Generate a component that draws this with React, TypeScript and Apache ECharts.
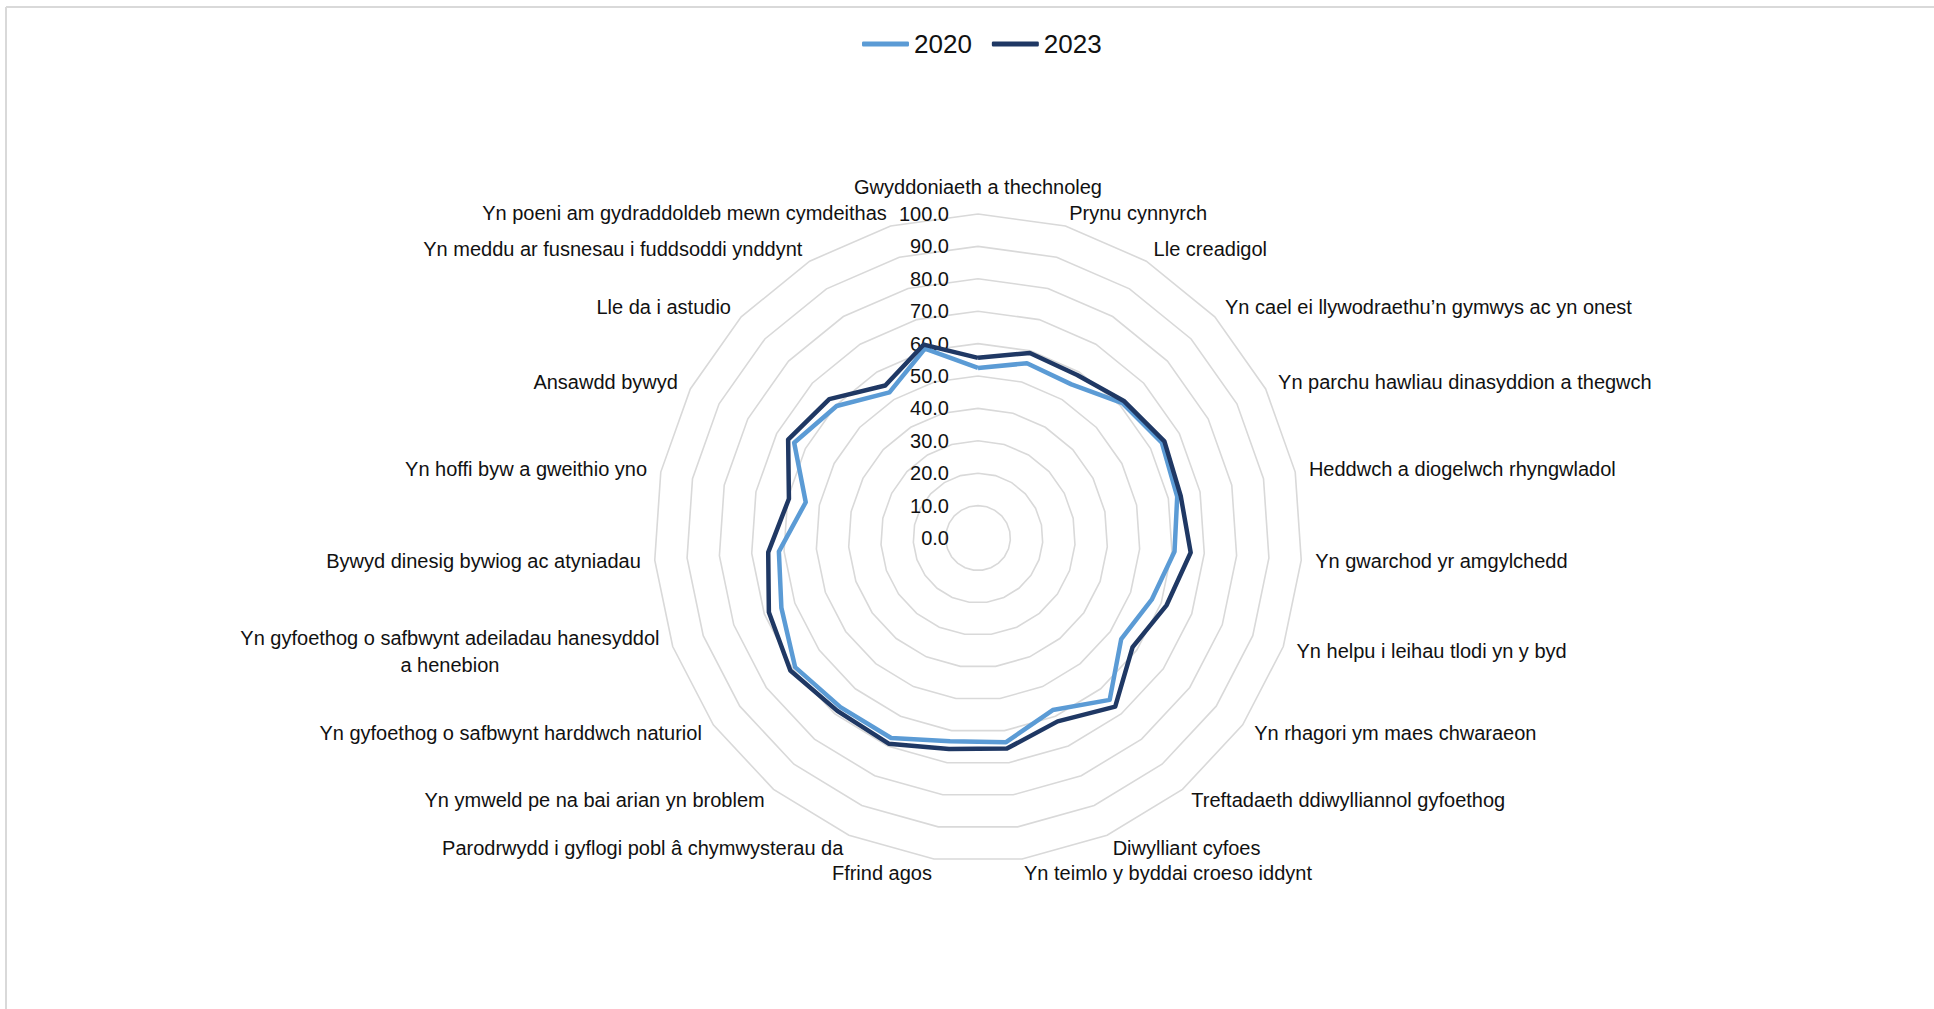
import React, { useEffect, useRef } from 'react';
import * as echarts from 'echarts';

// Indicators, listed clockwise from the top of the chart
const categories: string[] = [
  'Gwyddoniaeth a thechnoleg',
  'Prynu cynnyrch',
  'Lle creadigol',
  'Yn cael ei llywodraethu\u2019n gymwys ac yn onest',
  'Yn parchu hawliau dinasyddion a thegwch',
  'Heddwch a diogelwch rhyngwladol',
  'Yn gwarchod yr amgylchedd',
  'Yn helpu i leihau tlodi yn y byd',
  'Yn rhagori ym maes chwaraeon',
  'Treftadaeth ddiwylliannol gyfoethog',
  'Diwylliant cyfoes',
  'Yn teimlo y byddai croeso iddynt',
  'Ffrind agos',
  'Parodrwydd i gyflogi pobl \u00e2 chymwysterau da',
  'Yn ymweld pe na bai arian yn broblem',
  'Yn gyfoethog o safbwynt harddwch naturiol',
  'Yn gyfoethog o safbwynt adeiladau hanesyddol\na henebion',
  'Bywyd dinesig bywiog ac atyniadau',
  'Yn hoffi byw a gweithio yno',
  'Ansawdd bywyd',
  'Lle da i astudio',
  'Yn meddu ar fusnesau i fuddsoddi ynddynt',
  'Yn poeni am gydraddoldeb mewn cymdeithas',
];

const values2020: number[] = [
  52.5, 56.0, 55.5, 61.0, 63.9, 62.8, 60.8, 56.9, 54.1, 64.4, 57.9, 63.6,
  63.3, 67.3, 67.3, 69.1, 64.4, 61.6, 54.3, 63.9, 59.7, 52.6, 60.7,
];

const values2023: number[] = [
  55.6, 59.3, 58.9, 61.8, 64.8, 63.9, 65.8, 61.8, 58.4, 67.1, 61.7, 65.6,
  65.7, 69.2, 68.8, 70.9, 68.5, 64.9, 59.6, 66.0, 62.8, 55.1, 62.0,
];

const seriesNames: string[] = ['2020', '2023'];
const seriesColors: string[] = ['#5B9BD5', '#1F3864'];
const axisMin = 0;
const axisMax = 100;
const axisSplits = 10;

const FONT = "'Liberation Sans', Arial, sans-serif";
const TEXT = '#111111';

// ECharts lays radar indicators out counter-clockwise; reorder to draw clockwise.
function toClockwise<T>(arr: T[]): T[] {
  return [arr[0], ...arr.slice(1).reverse()];
}

export default function App() {
  const ref = useRef<HTMLDivElement>(null);

  useEffect(() => {
    if (!ref.current) return;
    const chart = echarts.init(ref.current, undefined, { renderer: 'svg' });

    const names = toClockwise(categories);
    const indicator = names.map((name, i) => {
      const base: any = { name, min: axisMin, max: axisMax };
      if (i === 0) {
        base.axisLabel = {
          show: true,
          formatter: (v: number) => Number(v).toFixed(1),
          fontSize: 20,
          fontFamily: FONT,
          color: TEXT,
          margin: 29,
        };
      }
      return base;
    });

    const option: any = {
      animation: false,
      backgroundColor: '#ffffff',
      graphic: [
        { type: 'line', shape: { x1: 6, y1: 7, x2: 1934, y2: 7 }, style: { stroke: '#d9d9d9', lineWidth: 2 } },
        { type: 'line', shape: { x1: 6, y1: 7, x2: 6, y2: 1009 }, style: { stroke: '#d9d9d9', lineWidth: 2 } },
      ],
      legend: {
        data: seriesNames,
        top: 26,
        left: 857,
        icon: 'roundRect',
        itemWidth: 47,
        itemHeight: 5,
        itemGap: 20,
        textStyle: { fontSize: 26, fontFamily: FONT, color: TEXT },
      },
      radar: {
        center: [978, 538],
        radius: 324,
        startAngle: 90,
        splitNumber: axisSplits,
        shape: 'polygon',
        nameGap: 14,
        axisName: {
          color: TEXT,
          fontSize: 20,
          fontFamily: FONT,
          formatter: (n: string) =>
            n
              .split('\n')
              .map((s) => `{c|${s}}`)
              .join('\n'),
          rich: {
            c: { align: 'center', fontSize: 20, fontFamily: FONT, color: TEXT, lineHeight: 27 },
          },
        },
        axisLine: { show: false },
        axisTick: { show: false },
        axisLabel: { show: false },
        splitLine: { lineStyle: { color: '#d9d9d9', width: 1.6 } },
        splitArea: { show: false },
        indicator,
      },
      series: [
        {
          type: 'radar',
          name: seriesNames[0],
          symbol: 'none',
          z: 2,
          itemStyle: { color: seriesColors[0] },
          lineStyle: { color: seriesColors[0], width: 4.5 },
          data: [{ name: seriesNames[0], value: toClockwise(values2020) }],
        },
        {
          type: 'radar',
          name: seriesNames[1],
          symbol: 'none',
          z: 3,
          itemStyle: { color: seriesColors[1] },
          lineStyle: { color: seriesColors[1], width: 4.5 },
          data: [{ name: seriesNames[1], value: toClockwise(values2023) }],
        },
      ],
    };

    chart.setOption(option);
    return () => {
      chart.dispose();
    };
  }, []);

  return (
    <div
      ref={ref}
      style={{ position: 'absolute', left: 0, top: 0, width: 1934, height: 1009, background: '#fff' }}
    />
  );
}
